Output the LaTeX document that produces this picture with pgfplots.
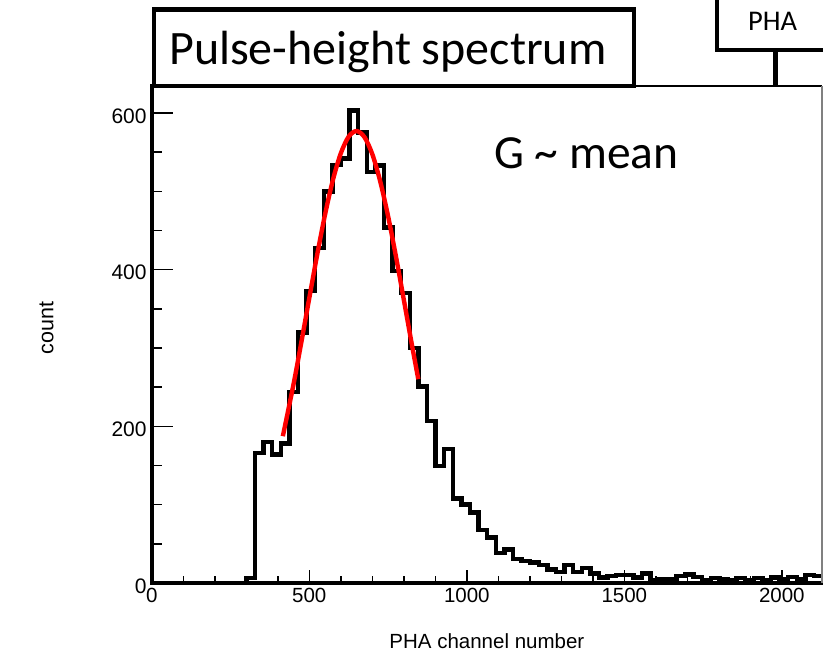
\documentclass[border=0pt]{standalone}
\usepackage{pgfplots}
\pgfplotsset{compat=1.18}
\usepackage{fontspec}
\setmainfont{Liberation Sans}
\newfontfamily\calibri{Carlito}

\begin{document}
\begin{tikzpicture}[x=1pt,y=1pt]
\useasboundingbox (0,0) rectangle (823,663);
% main axis: data, x ticks, frame
\begin{axis}[
  at={(151.8pt,80pt)}, anchor=origin,
  width=670.2pt, height=497pt, scale only axis,
  xmin=0, xmax=2127.6, ymin=0, ymax=634.5,
  clip=false,
  axis line style={draw=none},
  tick pos=left, tick align=inside,
  xtick={0,500,1000,1500,2000}, minor x tick num=4,
  ytick=\empty,
  major tick length=13pt, minor tick length=6.5pt,
  tick style={line width=1.5pt, black},
  scaled ticks=false,
  /pgf/number format/1000 sep={},
  /pgf/number format/assume math mode=true,
  xticklabel style={font=\fontsize{20.5}{24}\selectfont, inner sep=0pt, anchor=north, yshift=-5.3pt},
  xlabel={PHA channel number},
  xlabel style={at={(axis description cs:0.5,0)}, anchor=base, yshift=-66pt, font=\fontsize{20.5}{24}\selectfont},
]
\addplot[const plot, black, line width=4.4pt, line join=miter] coordinates {
(0,0) (300.3,6) (327.6,166) (354.9,180) (382.2,164) (409.5,178) (436.8,244)
(464.1,320) (491.4,373) (518.7,428) (546,500) (573.3,534) (600.6,542)
(627.9,603) (655.2,575) (682.5,525) (709.8,533) (737.1,454) (764.4,398)
(791.7,370) (819,300) (846.3,251) (873.6,207) (900.9,149) (928.2,171)
(955.5,108) (982.8,100) (1010.1,90) (1037.4,68) (1064.7,58) (1092,38)
(1119.3,43) (1146.6,31) (1173.9,28) (1201.2,26) (1228.5,23) (1255.8,17)
(1283.1,14) (1310.4,23) (1337.7,14) (1365,19) (1392.3,12) (1419.6,7)
(1446.9,9) (1474.2,10) (1501.5,10) (1528.8,7) (1556.1,12) (1583.4,3)
(1610.7,5) (1638,5) (1665.3,9) (1692.6,11) (1719.9,8) (1747.2,4)
(1774.5,6) (1801.8,5) (1829.1,3) (1856.4,6) (1883.7,4) (1911,6)
(1938.3,4) (1965.6,7) (1992.9,5) (2020.2,8) (2047.5,5) (2074.8,10)
(2102.1,9) (2127.6,9)
};
\addplot[red, line width=4.4pt, smooth] coordinates {
(416,187.4) (450,253.9) (475,308) (500,363.9) (525,419.1) (550,470.4)
(575,514.6) (600,548.5) (625,569.9) (650,577) (675,569.3) (700,547.5)
(725,513) (750,468.5) (775,417) (800,361.7) (825,305.7) (846,260.2)
};
\draw[line width=4pt, line cap=rect] (rel axis cs:0,1) -- (rel axis cs:0,0) -- (rel axis cs:1,0);
\draw[line width=2.7pt] (rel axis cs:0,1) -- (rel axis cs:1,1);
\draw[line width=1.3pt, gray] (rel axis cs:1,0) -- (rel axis cs:1,1);
\end{axis}
% second axis: y ticks and labels
\begin{axis}[
  at={(151.8pt,80pt)}, anchor=origin,
  width=670.2pt, height=497pt, scale only axis,
  xmin=0, xmax=2127.6, ymin=0, ymax=634.5,
  axis line style={draw=none},
  tick pos=left, tick align=inside,
  xtick=\empty,
  ytick={0,200,400,600}, minor y tick num=3,
  major tick length=21pt, minor tick length=10.5pt,
  tick style={line width=1.5pt, black},
  /pgf/number format/assume math mode=true,
  yticklabel style={font=\fontsize{21}{24}\selectfont, inner sep=0pt, anchor=east, xshift=-5pt, yshift=-3pt},
]
\end{axis}
\node[rotate=90, anchor=base, inner sep=0pt, font=\fontsize{21.5}{24}\selectfont] at (53.3,335) {count};
% overlays
\draw[line width=4.5pt, fill=white] (154,653.5) rectangle (634,577);
\node[anchor=base west, inner sep=0pt, font=\calibri\fontsize{48}{50}\selectfont] at (169,598) {Pulse-height spectrum};
\draw[line width=4.5pt, fill=white] (717,613) rectangle (840,690);
\node[anchor=base west, inner sep=0pt, font=\calibri\fontsize{28.5}{30}\selectfont] at (748,632.3) {PHA};
\draw[line width=4.5pt] (775.7,613) -- (775.7,577);
\node[anchor=base west, inner sep=0pt, font=\calibri\fontsize{47.5}{50}\selectfont] at (494,494.5) {G \textasciitilde{} mean};
\end{tikzpicture}
\end{document}
